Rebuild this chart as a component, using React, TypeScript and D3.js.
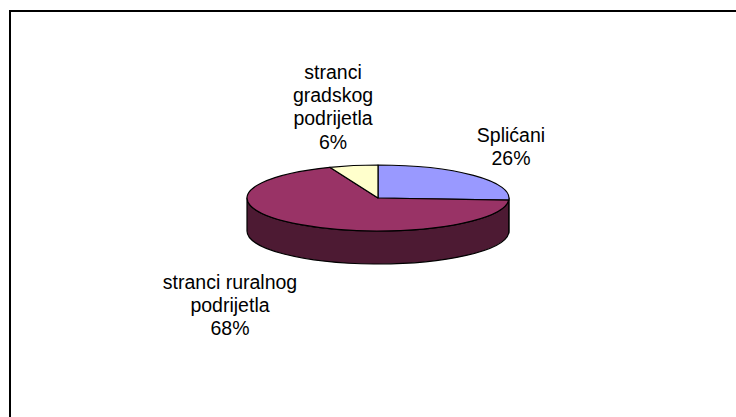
import * as d3 from 'd3';
import React, { useEffect, useRef } from 'react';

// chart data
const categories = ['Splićani', 'stranci ruralnog podrijetla', 'stranci gradskog podrijetla'];
const values = [26, 68, 6];
const labelLines = [['Splićani'], ['stranci ruralnog', 'podrijetla'], ['stranci', 'gradskog', 'podrijetla']];
const topColors = ['#9999FF', '#993366', '#FFFFCC'];
const sideColors = ['#4D4D80', '#4D1A33', '#808066'];

const App = () => {
    const svgRef = useRef(null);

    useEffect(() => {
        const width = 736;
        const height = 417;
        const cx = 378, cy = 198;
        const rx = 131, ry = 33, depth = 33;
        const fontSize = 19.5;
        const lineH = 23.2;

        // label anchors (center x, first baseline)
        const labelAnchor = [[511, 142], [230, 289], [333, 79]];

        const svg = d3.select(svgRef.current);
        svg.selectAll('*').remove();
        svg.attr('width', width).attr('height', height);

        svg.append('rect')
            .attr('width', width).attr('height', height)
            .attr('fill', '#fff');

        // chart border (right and bottom run off the picture)
        svg.append('rect')
            .attr('x', 10).attr('y', 11)
            .attr('width', width + 20).attr('height', height + 20)
            .attr('fill', 'none')
            .attr('stroke', '#000')
            .attr('stroke-width', 2);

        const data = categories.map((c, i) => ({ name: c, value: values[i], i }));
        const arcs = d3.pie().sort(null).value(d => d.value)(data);

        const pt = (a) => [cx + rx * Math.sin(a), cy - ry * Math.cos(a)];

        // side walls, only the front half (pi/2 .. 3pi/2) is visible
        arcs.forEach(a => {
            const a0 = Math.max(a.startAngle, Math.PI / 2);
            const a1 = Math.min(a.endAngle, Math.PI * 1.5);
            if (a1 <= a0) return;
            const [x0, y0] = pt(a0);
            const [x1, y1] = pt(a1);
            const d = `M${x0},${y0} A${rx},${ry} 0 0 1 ${x1},${y1} L${x1},${y1 + depth} A${rx},${ry} 0 0 0 ${x0},${y0 + depth} Z`;
            svg.append('path')
                .attr('d', d)
                .attr('fill', sideColors[a.data.i])
                .attr('stroke', '#000')
                .attr('stroke-width', 1.2)
                .attr('stroke-linejoin', 'round');
        });

        // top surface
        const arcGen = d3.arc().innerRadius(0).outerRadius(rx);
        const top = svg.append('g')
            .attr('transform', `translate(${cx},${cy}) scale(1,${ry / rx})`);
        top.selectAll('path')
            .data(arcs)
            .enter()
            .append('path')
            .attr('d', arcGen)
            .attr('fill', d => topColors[d.data.i])
            .attr('stroke', '#000')
            .attr('stroke-width', 1.2)
            .attr('stroke-linejoin', 'round')
            .attr('vector-effect', 'non-scaling-stroke');

        // labels
        arcs.forEach(a => {
            const i = a.data.i;
            const lines = [...labelLines[i], `${values[i]}%`];
            const [lx, ly] = labelAnchor[i];
            const t = svg.append('text')
                .attr('text-anchor', 'middle')
                .attr('font-family', '"Liberation Sans", Arial, sans-serif')
                .attr('font-size', fontSize)
                .attr('fill', '#000');
            lines.forEach((l, k) => {
                t.append('tspan')
                    .attr('x', lx)
                    .attr('y', ly + k * lineH)
                    .text(l);
            });
        });
    }, []);

    return <svg ref={svgRef} style={{ position: 'absolute', left: 0, top: 0, display: 'block' }}></svg>;
};

export default App;
